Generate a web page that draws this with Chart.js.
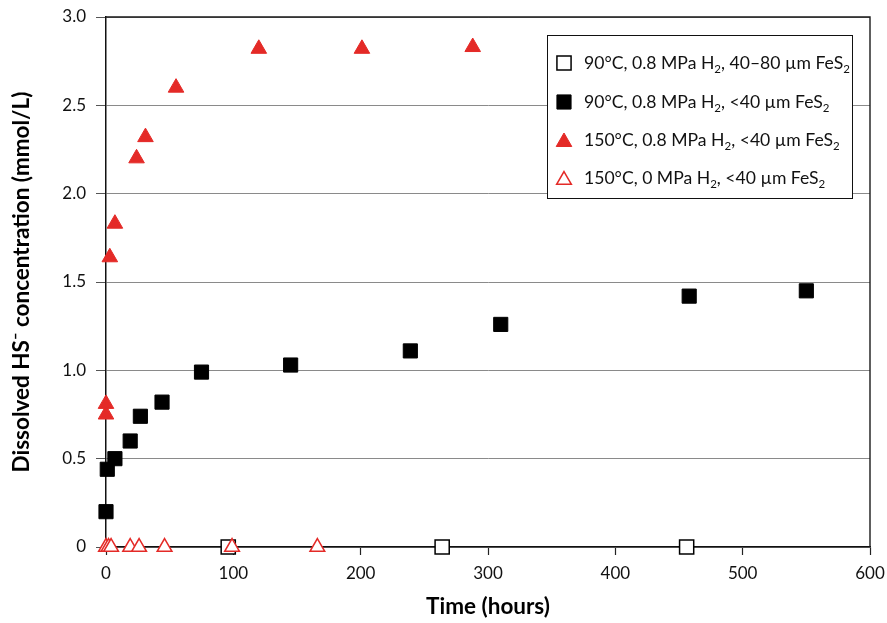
<!DOCTYPE html>
<html>
<head>
<meta charset="utf-8">
<script src="https://cdn.jsdelivr.net/npm/chart.js@4.4.1/dist/chart.umd.min.js"></script>
<style>
  html, body { margin: 0; padding: 0; background: #fff; }
  #wrap { width: 887px; height: 623px; }
</style>
</head>
<body>
<div id="wrap"><canvas id="hsChart" width="887" height="623"></canvas></div>
<script>
// series labels, "_2" marks a subscript 2
const seriesLabels = [
  '90°C, 0.8 MPa H_2, 40–80 µm FeS_2',
  '90°C, 0.8 MPa H_2, <40 µm FeS_2',
  '150°C, 0.8 MPa H_2, <40 µm FeS_2',
  '150°C, 0 MPa H_2, <40 µm FeS_2'
];

// 90°C, 0.8 MPa, 40-80 um
const hoursA = [96, 264, 456];
const concA = [0, 0, 0];

// 90°C, 0.8 MPa, <40 um
const hoursB = [0, 1, 7, 19, 27, 44, 75, 145, 239, 310, 458, 550];
const concB = [0.20, 0.44, 0.50, 0.60, 0.74, 0.82, 0.99, 1.03, 1.11, 1.26, 1.42, 1.45];

// 150°C, 0.8 MPa, <40 um
const hoursC = [0, 0, 3, 7, 24, 31, 55, 120, 201, 288];
const concC = [0.75, 0.81, 1.64, 1.83, 2.20, 2.32, 2.60, 2.82, 2.82, 2.83];

// 150°C, 0 MPa, <40 um
const hoursD = [0, 2, 4, 19, 26, 46, 99, 166];
const concD = [0, 0, 0, 0, 0, 0, 0, 0];

const xTicks = [0, 100, 200, 300, 400, 500, 600];
const yTicks = [0, 0.5, 1.0, 1.5, 2.0, 2.5, 3.0];

const RED = '#e42a27';

const toPoints = (xs, ys) => xs.map((x, i) => ({ x: x, y: ys[i] }));

Chart.defaults.font.family = 'Lato, "Open Sans", sans-serif';
Chart.defaults.color = '#111';

const markers = [
  { pointStyle: 'rect', radius: 10, fill: '#fff', stroke: '#000', borderWidth: 1.5 },
  { pointStyle: 'rect', radius: 10, fill: '#000', stroke: '#000', borderWidth: 1 },
  { pointStyle: 'triangle', radius: 9, fill: RED, stroke: RED, borderWidth: 1 },
  { pointStyle: 'triangle', radius: 8.5, fill: '#fff', stroke: RED, borderWidth: 1.5 }
];

function makeSet(i, xs, ys, order) {
  const m = markers[i];
  return {
    label: seriesLabels[i],
    data: toPoints(xs, ys),
    pointStyle: m.pointStyle,
    pointRadius: m.radius,
    pointBackgroundColor: m.fill,
    pointBorderColor: m.stroke,
    pointBorderWidth: m.borderWidth,
    showLine: false,
    clip: false,
    order: order
  };
}

// box around the plot area (top and right edges)
const plotFrame = {
  id: 'plotFrame',
  afterDraw(chart) {
    const { ctx, chartArea: a } = chart;
    ctx.save();
    ctx.strokeStyle = '#1a1a1a';
    ctx.lineWidth = 1.4;
    ctx.beginPath();
    ctx.moveTo(a.left, a.top);
    ctx.lineTo(a.right, a.top);
    ctx.lineTo(a.right, a.bottom);
    ctx.stroke();
    ctx.restore();
  }
};

// legend box drawn inside the plot, with subscripts
const boxLegend = {
  id: 'boxLegend',
  afterDraw(chart) {
    const ctx = chart.ctx;
    const bx = 547, by = 35, bw = 305, bh = 163;
    ctx.save();
    ctx.fillStyle = '#fff';
    ctx.fillRect(bx, by, bw, bh);
    ctx.strokeStyle = '#111';
    ctx.lineWidth = 1;
    ctx.strokeRect(bx + 0.5, by + 0.5, bw, bh);

    const rowY = [63, 102, 140, 178];
    seriesLabels.forEach((label, i) => {
      const m = markers[i];
      const y = rowY[i];
      ctx.fillStyle = m.fill;
      ctx.strokeStyle = m.stroke;
      ctx.lineWidth = m.borderWidth;
      Chart.helpers.drawPoint(ctx, {
        pointStyle: m.pointStyle, radius: m.radius, rotation: 0, borderWidth: m.borderWidth
      }, 564, m.pointStyle === 'triangle' ? y + 2 : y);

      let x = 584;
      ctx.fillStyle = '#111';
      ctx.textBaseline = 'alphabetic';
      ctx.textAlign = 'left';
      label.split('_2').forEach((part, k, all) => {
        ctx.font = '17.6px Lato';
        ctx.fillText(part, x, y + 6);
        x += ctx.measureText(part).width;
        if (k < all.length - 1) {
          ctx.font = '11.5px Lato';
          ctx.fillText('2', x, y + 10);
          x += ctx.measureText('2').width;
        }
      });
    });
    ctx.restore();
  }
};

const ctx = document.getElementById('hsChart').getContext('2d');
new Chart(ctx, {
  type: 'scatter',
  data: {
    datasets: [
      makeSet(3, hoursD, concD, 0),
      makeSet(2, hoursC, concC, 1),
      makeSet(1, hoursB, concB, 2),
      makeSet(0, hoursA, concA, 3)
    ]
  },
  options: {
    responsive: false,
    animation: false,
    events: [],
    layout: { padding: { left: 0, top: 17, right: 17, bottom: 0 } },
    plugins: {
      legend: { display: false },
      tooltip: { enabled: false }
    },
    scales: {
      x: {
        type: 'linear',
        min: 0,
        max: 600,
        afterBuildTicks: (s) => { s.ticks = xTicks.map(v => ({ value: v })); },
        afterFit: (s) => { s.height = 76; s.paddingLeft = 0; s.paddingRight = 0; },
        ticks: { font: { size: 17 }, padding: 8, maxRotation: 0 },
        grid: { drawOnChartArea: false, drawTicks: true, tickLength: 8, tickColor: '#222', tickWidth: 1.2 },
        border: { display: true, color: '#111', width: 1.5 },
        title: {
          display: true,
          text: 'Time (hours)',
          font: { size: 22.5, weight: 'bold' },
          color: '#000',
          padding: { top: 0, bottom: 3 }
        }
      },
      y: {
        type: 'linear',
        min: 0,
        max: 3,
        afterBuildTicks: (s) => { s.ticks = yTicks.map(v => ({ value: v })); },
        afterFit: (s) => { s.width = 106; s.paddingTop = 0; s.paddingBottom = 0; },
        ticks: {
          font: { size: 17 },
          padding: 10,
          callback: (v) => (v === 0 ? '0' : v.toFixed(1))
        },
        grid: { color: '#8a8a8a', lineWidth: 1, drawTicks: true, tickLength: 10, tickColor: '#555' },
        border: { display: true, color: '#111', width: 1.5 },
        title: {
          display: true,
          text: 'Dissolved HS\u207B concentration (mmol/L)',
          font: { size: 22.5, weight: 'bold' },
          color: '#000',
          padding: { top: 8, bottom: 0 }
        }
      }
    }
  },
  plugins: [plotFrame, boxLegend]
});
</script>
</body>
</html>
